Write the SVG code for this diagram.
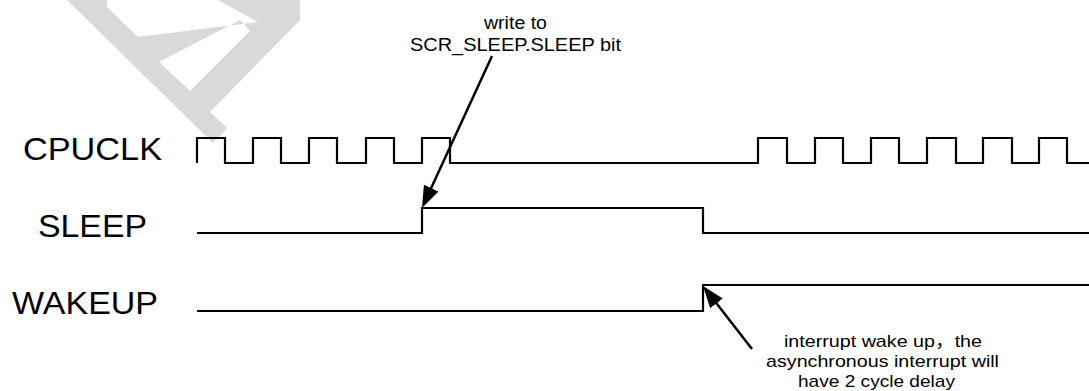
<svg xmlns="http://www.w3.org/2000/svg" width="1089" height="391" viewBox="0 0 1089 391">
<style>
.sig{fill:none;stroke:#000;stroke-width:2.2;stroke-linejoin:miter}
.lbl{font-family:"Liberation Sans",Arial,sans-serif;font-size:31px;fill:#000}
.note{font-family:"Liberation Sans",Arial,"Noto Sans CJK SC",sans-serif;font-size:18px;fill:#000}
.ptr{fill:none;stroke:#000;stroke-width:2.5}
.wm{fill:#d9d9d9;fill-rule:evenodd}
</style>
<defs>
<marker id="ah" markerUnits="userSpaceOnUse" markerWidth="22" markerHeight="16" refX="16" refY="8" orient="auto">
<path d="M0,0 L22,8 L0,16 Z" fill="#000"/>
</marker>
</defs>
<g id="watermark">
<path class="wm" d="M67,0 L213,143 L227,128 L210,112 L300,20 L300,0 Z M107,0 L107,7 L138,37 L258,22 L218,0 Z M159,62 L190,91 L250,31 L240,20 Z"/>
</g>
<g id="cpuclk">
<text class="lbl" x="23" y="160" textLength="139" lengthAdjust="spacingAndGlyphs">CPUCLK</text>
<path class="sig" d="M197,163 V138 H225 V163 H253 V138 H281 V163 H309 V138 H337 V163 H366 V138 H394 V163 H422 V138 H450 V163 H758 V138 H787 V163 H815 V138 H843 V163 H871 V138 H899 V163 H927 V138 H956 V163 H983 V138 H1012 V163 H1039 V138 H1067 V163 H1089"/>
</g>
<g id="sleep">
<text class="lbl" x="38" y="237" textLength="109" lengthAdjust="spacingAndGlyphs">SLEEP</text>
<path class="sig" d="M197,233 H422 V208 H703 V233 H1089"/>
</g>
<g id="wakeup">
<text class="lbl" x="12" y="314" textLength="146" lengthAdjust="spacingAndGlyphs">WAKEUP</text>
<path class="sig" d="M197,311 H703 V285 H1089"/>
</g>
<g id="note-write">
<text class="note" x="484" y="29" textLength="63" lengthAdjust="spacingAndGlyphs">write to</text>
<text class="note" x="410" y="51" textLength="211" lengthAdjust="spacingAndGlyphs">SCR_SLEEP.SLEEP bit</text>
</g>
<g id="note-wake">
<text class="note" style="font-size:17px" x="784" y="347" textLength="198" lengthAdjust="spacingAndGlyphs">interrupt wake up，the</text>
<text class="note" style="font-size:17px" x="766" y="367" textLength="233" lengthAdjust="spacingAndGlyphs">asynchronous interrupt will</text>
<text class="note" style="font-size:17px" x="798" y="387" textLength="157" lengthAdjust="spacingAndGlyphs">have 2 cycle delay</text>
</g>
<g id="connectors">
<line class="ptr" x1="492" y1="56" x2="424.5" y2="202.6" marker-end="url(#ah)"/>
<line class="ptr" x1="752" y1="349" x2="706.7" y2="290.7" marker-end="url(#ah)"/>
</g>
</svg>
